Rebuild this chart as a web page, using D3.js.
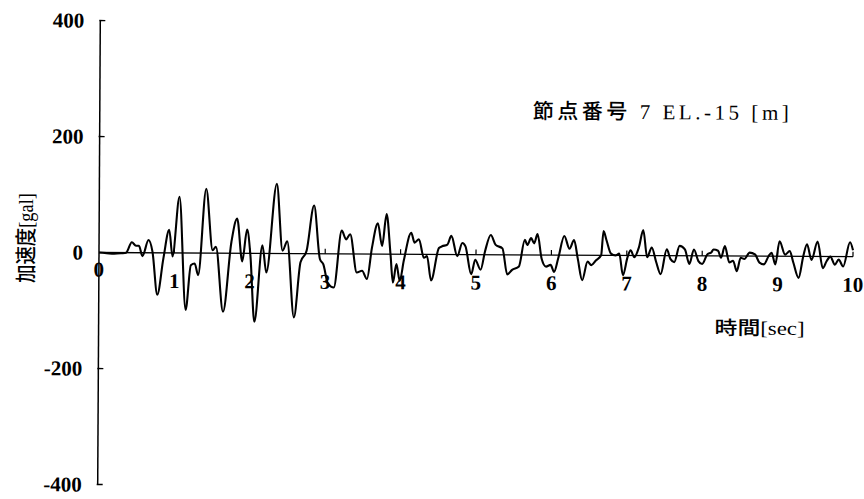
<!DOCTYPE html>
<html><head><meta charset="utf-8">
<script src="https://cdn.jsdelivr.net/npm/d3@7/dist/d3.min.js"></script>
<style>body{margin:0;background:#fff}svg{display:block}</style>
</head><body>
<svg id="c" width="864" height="499"></svg>
<script>
// ---- data ----
const title = "節点番号 7 EL.-15 [m]";
const yTitle = "加速度[gal]";
const xTitle = "時間[sec]";
const yTicks = [400, 200, 0, -200, -400];
const xTicks = [0,1,2,3,4,5,6,7,8,9,10];
const times = [0,0.1,0.2,0.3,0.36,0.435,0.49,0.53,0.576,0.656,0.709,0.776,0.855,0.93,0.975,1.064,1.153,1.219,1.27,1.316,1.418,1.507,1.55,1.649,1.755,1.83,1.9,1.963,2.008,2.065,2.167,2.22,2.354,2.434,2.496,2.589,2.673,2.753,2.85,2.93,2.975,3.041,3.116,3.218,3.276,3.33,3.42,3.49,3.555,3.62,3.697,3.754,3.812,3.866,3.9,3.945,3.99,4.043,4.14,4.185,4.242,4.309,4.35,4.406,4.508,4.55,4.62,4.672,4.752,4.818,4.86,4.938,4.99,5.062,5.12,5.195,5.26,5.35,5.416,5.48,5.57,5.647,5.68,5.73,5.77,5.815,5.87,5.93,5.99,6.037,6.09,6.17,6.24,6.3,6.35,6.41,6.48,6.53,6.59,6.66,6.69,6.73,6.79,6.85,6.9,6.95,7.01,7.05,7.1,7.16,7.217,7.27,7.33,7.39,7.45,7.53,7.58,7.63,7.7,7.77,7.83,7.89,7.95,8.0,8.07,8.12,8.15,8.21,8.25,8.3,8.36,8.41,8.46,8.51,8.56,8.63,8.7,8.76,8.82,8.88,8.92,8.97,9.025,9.1,9.16,9.21,9.28,9.34,9.39,9.45,9.53,9.6,9.65,9.7,9.76,9.81,9.87,9.96,10.0];
const accel = [0,-1,-2,-1,0,18,12,12,-6,22,2,-72,-9,40,-6,97,-98,-21,-18,-38,111,5,11,-101,19,60,-14,41,-3,-118,14,-33,120,5,21,-110,-15,5,83,-9,-18,-52,-58,40,25,34,-32,-29,-43,11,53,14,69,0,-49,-17,-46,-11,37,20,26,-6,-3,-45,11,14,17,32,-3,20,14,-34,-9,-26,6,34,17,11,-34,-26,-20,26,17,29,20,36,-6,-20,-17,-29,-6,33,11,26,-6,-43,-11,-17,-9,0,42,26,3,0,3,-34,-3,9,-3,14,44,-3,14,-11,-32,11,-6,-11,17,11,-14,11,-9,-14,3,6,11,9,-3,17,-11,-8,-26,-3,-5,6,3,-11,-14,0,6,-14,26,3,9,-11,-37,0,21,-6,26,-20,-8,0,-14,-5,-17,25,11];

// ---- chart ----
const svg = d3.select("#c");
const x = d3.scaleLinear().domain([0,10]).range([99,853]);
const y = d3.scaleLinear().domain([-400,400]).range([484.5,20.5]);
const serif = "'Liberation Serif','Noto Sans CJK JP',serif";
const g = svg.append("g").attr("transform", `rotate(0.32, ${x(0)}, ${y(0)})`);

// y axis
g.append("line").attr("x1",x(0)).attr("x2",x(0)).attr("y1",y(400)).attr("y2",y(-400))
  .attr("stroke","#000").attr("stroke-width",1.5);
g.selectAll(".yt").data(yTicks.filter(d=>d!==0)).join("line")
  .attr("x1",x(0)-1).attr("x2",x(0)+5).attr("y1",d=>y(d)).attr("y2",d=>y(d))
  .attr("stroke","#000").attr("stroke-width",1.3);
g.selectAll(".yl").data(yTicks).join("text")
  .attr("x",83).attr("y",d=>y(d)).attr("dy","0.34em").attr("text-anchor","end")
  .attr("font-family",serif).attr("font-size",21).attr("font-weight","bold")
  .text(d=>d);

// zero line
g.append("line").attr("x1",x(0)).attr("x2",x(10)).attr("y1",y(0)).attr("y2",y(0))
  .attr("stroke","#000").attr("stroke-width",1.3);
g.selectAll(".xt").data(xTicks.filter(d=>d>0)).join("line")
  .attr("x1",d=>x(d)).attr("x2",d=>x(d)).attr("y1",y(0)).attr("y2",y(0)-5)
  .attr("stroke","#000").attr("stroke-width",1.2);
g.selectAll(".xl").data(xTicks).join("text")
  .attr("x",d=>x(d)).attr("y",d=>d===0? y(0)+24 : y(0)+35).attr("text-anchor","middle")
  .attr("font-family",serif).attr("font-size",21).attr("font-weight","bold")
  .text(d=>d);

// waveform
const pts = times.map((t,i)=>[t,accel[i]]);
g.append("path").datum(pts)
  .attr("d", d3.line().x(d=>x(d[0])).y(d=>y(d[1])).curve(d3.curveMonotoneX))
  .attr("fill","none").attr("stroke","#000").attr("stroke-width",2.1).attr("stroke-linejoin","round");

// titles
g.append("text").attr("x",532).attr("y",116).attr("font-family",serif).attr("font-size",21)
  .attr("font-weight",500)
  .attr("textLength",256).attr("lengthAdjust","spacing").text(title);
g.append("text").attr("x",715).attr("y",331).attr("font-family",serif).attr("font-size",19)
  .attr("font-weight",500)
  .attr("textLength",90).attr("lengthAdjust","spacingAndGlyphs").text(xTitle);
svg.append("text").attr("transform","translate(33,238) rotate(-90)").attr("text-anchor","middle")
  .attr("font-family",serif).attr("font-size",21).attr("font-weight",500)
  .attr("textLength",90).attr("lengthAdjust","spacingAndGlyphs").text(yTitle);
</script>
</body></html>
